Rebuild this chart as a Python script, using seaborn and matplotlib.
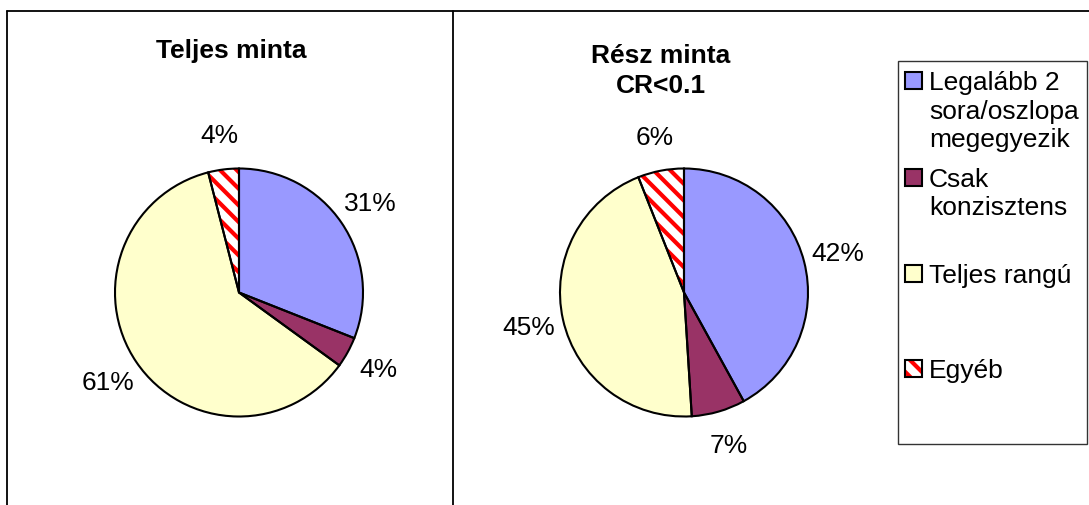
import matplotlib
matplotlib.use("Agg")
import matplotlib.pyplot as plt
from matplotlib.patches import Rectangle
from matplotlib.lines import Line2D
import seaborn as sns

# ---- data ----
categories = ["Legalább 2\nsora/oszlopa\nmegegyezik", "Csak\nkonzisztens", "Teljes rangú", "Egyéb"]
teljes_values = [31, 4, 61, 4]
resz_values = [42, 7, 45, 6]
titles = ["Teljes minta", "Rész minta\nCR<0.1"]
colors = ["#9999FF", "#993366", "#FFFFCC", "#FFFFFF"]

sns.set_theme(style="white")
plt.rcParams["font.family"] = ["Liberation Sans", "DejaVu Sans"]
plt.rcParams["text.color"] = "black"
plt.rcParams["hatch.linewidth"] = 3.0

W, H = 1089, 506
fig = plt.figure(figsize=(W / 100, H / 100), dpi=100)
fig.patch.set_facecolor("white")


def fx(x):
    return x / W


def fy(y):
    return 1 - y / H


# panel borders
fig.add_artist(Line2D([fx(7), fx(1089)], [fy(11.5), fy(11.5)], color="black", lw=1.3))
fig.add_artist(Line2D([fx(7), fx(7)], [fy(11.5), fy(506)], color="black", lw=1.3))
fig.add_artist(Line2D([fx(453), fx(453)], [fy(11.5), fy(506)], color="black", lw=1.3))

R = 124


def draw_pie(cx, cy, values):
    ax = fig.add_axes([fx(cx - R), fy(cy + R), 2 * R / W, 2 * R / H])
    wedges, texts, autotexts = ax.pie(
        values, colors=colors, startangle=90, counterclock=False,
        autopct=lambda p: f"{p:.0f}%", pctdistance=1.28,
        wedgeprops=dict(linewidth=0, edgecolor="none"),
        textprops=dict(fontsize=19, color="black"))
    hw = wedges[3]
    hw.set_facecolor("white")
    hw.set_edgecolor("red")
    hw.set_hatch("\\\\")
    hw.set_linewidth(0)
    ax.pie(values, colors=["none"] * len(values), startangle=90, counterclock=False,
           wedgeprops=dict(linewidth=1.5, edgecolor="black", facecolor="none"))
    ax.set_xlim(-1.0, 1.0)
    ax.set_ylim(-1.0, 1.0)
    ax.set_aspect("equal")
    ax.axis("off")
    return ax


draw_pie(239, 293.5, teljes_values)
draw_pie(684, 293.5, resz_values)

# titles
fig.text(fx(231), fy(51), titles[0], ha="center", va="center", fontsize=19,
         fontweight="bold", color="black")
fig.text(fx(661), fy(71), titles[1], ha="center", va="center", fontsize=19,
         fontweight="bold", color="black", linespacing=1.3)

# legend
fig.add_artist(Rectangle((fx(898), fy(445)), (1087 - 898) / W, (445 - 62) / H,
                         facecolor="white", edgecolor="#333333", lw=1.0))
baselines = [90, 187, 283, 378]
line_step = 28.5
for i, (lab, col) in enumerate(zip(categories, colors)):
    b = baselines[i]
    if i == 3:
        fig.add_artist(Rectangle((fx(905), fy(b)), 17 / W, 17 / H, facecolor="white",
                                 edgecolor="red", lw=0, hatch="\\\\"))
        sq = Rectangle((fx(905), fy(b)), 17 / W, 17 / H, facecolor="none",
                       edgecolor="black", lw=1.5)
    else:
        sq = Rectangle((fx(905), fy(b)), 17 / W, 17 / H, facecolor=col,
                       edgecolor="black", lw=1.5)
    fig.add_artist(sq)
    for k, line in enumerate(lab.split("\n")):
        fig.text(fx(929), fy(b + k * line_step), line, ha="left", va="baseline",
                 fontsize=19, color="black")

fig.savefig("out.png", dpi=100, facecolor="white")
